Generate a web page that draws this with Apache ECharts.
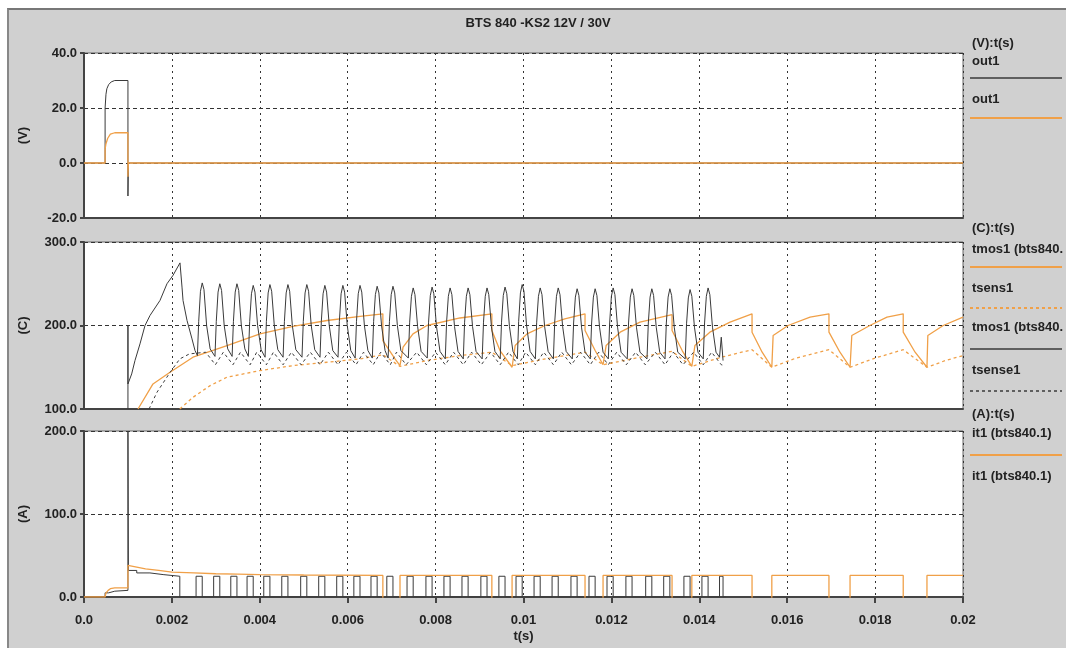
<!DOCTYPE html>
<html>
<head>
<meta charset="utf-8">
<script src="https://cdn.jsdelivr.net/npm/echarts@6/dist/echarts.min.js"></script>
<style>
html, body { margin: 0; padding: 0; background: #fff; }
#frame { position: absolute; left: 7px; top: 8px; width: 1059px; height: 640px; background: #d0d0d0;
         border-top: 2px solid #777; border-left: 2px solid #888; box-sizing: border-box; }
#chart { position: absolute; left: 0; top: 0; width: 1066px; height: 648px; }
</style>
</head>
<body>
<div id="frame"></div>
<div id="chart"></div>
<script>
// tick labels of the time axis
const xTickLabels = ['0.0', '0.002', '0.004', '0.006', '0.008', '0.01', '0.012', '0.014', '0.016', '0.018', '0.02'];

// (V) panel : out1 (black / orange)
const outBlack = [[0,0],[0.00048,0],[0.00048,5],[0.00048,20],[0.0005,25],[0.00052,27],[0.00056,28.5],[0.00062,29.5],
  [0.0007,30],[0.001,30],[0.001,-12],[0.00101,0],[0.02,0]];
const outOrange = [[0,0],[0.00048,0],[0.00048,5],[0.0005,7],[0.00054,9],[0.0006,10.5],[0.0007,11],[0.001,11],
  [0.001,-5],[0.00101,0],[0.02,0]];

// (C) panel : tmos1 black (fast cycling)
const tmosBlack = [[0.001,100],[0.001,200],[0.001,130],[0.001085,142],[0.00116,158],[0.001274,178],[0.001388,200],
  [0.001502,212],[0.001729,230],[0.001888,250],[0.002025,260],[0.002184,275],[0.00223,246],[0.002253,230],
  [0.002344,206],[0.002457,184],[0.002526,170],
  [0.00258,164],[0.00261,205],[0.00265,241],[0.00269,251],[0.00273,243],[0.00279,200],[0.00287,172],
  [0.00298,163],[0.00301,205],[0.00305,240],[0.00309,250],[0.00313,242],[0.00319,200],[0.00327,172],
  [0.00337,163],[0.00340,205],[0.00344,240],[0.00348,250],[0.00352,242],[0.00358,200],[0.00366,172],
  [0.00374,163],[0.00377,205],[0.00381,238],[0.00385,248],[0.00389,240],[0.00395,200],[0.00403,171],
  [0.00412,162],[0.00415,205],[0.00419,239],[0.00423,249],[0.00427,241],[0.00433,200],[0.00441,171],
  [0.00453,162],[0.00456,205],[0.00460,239],[0.00464,249],[0.00468,241],[0.00474,200],[0.00482,171],
  [0.00496,162],[0.00499,205],[0.00503,239],[0.00507,249],[0.00511,241],[0.00517,200],[0.00525,171],
  [0.00537,162],[0.00540,205],[0.00544,238],[0.00548,248],[0.00552,240],[0.00558,200],[0.00566,170],
  [0.00578,162],[0.00581,205],[0.00585,238],[0.00589,248],[0.00593,240],[0.00599,200],[0.00607,170],
  [0.00617,161],[0.00620,205],[0.00624,238],[0.00628,248],[0.00632,240],[0.00638,200],[0.00646,170],
  [0.00656,161],[0.00659,205],[0.00663,237],[0.00667,247],[0.00671,239],[0.00677,200],[0.00685,170],
  [0.00692,161],[0.00695,205],[0.00699,237],[0.00703,247],[0.00707,239],[0.00713,200],[0.00721,170],
  [0.00738,161],[0.00741,204],[0.00745,235],[0.00749,245],[0.00753,237],[0.00759,199],[0.00767,169],
  [0.00781,161],[0.00784,204],[0.00788,236],[0.00792,246],[0.00796,238],[0.00802,199],[0.00810,169],
  [0.00822,160],[0.00825,204],[0.00829,235],[0.00833,245],[0.00837,237],[0.00843,199],[0.00851,169],
  [0.00863,160],[0.00866,204],[0.00870,235],[0.00874,245],[0.00878,237],[0.00884,199],[0.00892,169],
  [0.00906,160],[0.00909,204],[0.00913,235],[0.00917,245],[0.00921,237],[0.00927,199],[0.00935,169],
  [0.00947,160],[0.00950,204],[0.00954,236],[0.00958,246],[0.00962,238],[0.00968,199],[0.00976,169],
  [0.00986,160],[0.00989,205],[0.00993,239],[0.00997,249],[0.01001,241],[0.01007,200],[0.01015,169],
  [0.01027,160],[0.01030,204],[0.01034,235],[0.01038,245],[0.01042,237],[0.01048,199],[0.01056,169],
  [0.01068,160],[0.01071,204],[0.01075,235],[0.01079,245],[0.01083,237],[0.01089,199],[0.01097,169],
  [0.01111,160],[0.01114,203],[0.01118,234],[0.01122,244],[0.01126,236],[0.01132,198],[0.01140,168],
  [0.01152,160],[0.01155,203],[0.01159,234],[0.01163,244],[0.01167,236],[0.01173,198],[0.01181,168],
  [0.01193,160],[0.01196,203],[0.01200,235],[0.01204,245],[0.01208,237],[0.01214,198],[0.01222,168],
  [0.01236,160],[0.01239,203],[0.01243,234],[0.01247,244],[0.01251,236],[0.01257,198],[0.01265,168],
  [0.01281,160],[0.01284,203],[0.01288,234],[0.01292,244],[0.01296,236],[0.01302,198],[0.01310,168],
  [0.01322,160],[0.01325,203],[0.01329,234],[0.01333,244],[0.01337,236],[0.01343,198],[0.01351,168],
  [0.01368,160],[0.01371,202],[0.01375,233],[0.01379,243],[0.01383,235],[0.01389,198],[0.01397,168],
  [0.01409,160],[0.01412,203],[0.01416,235],[0.01420,245],[0.01424,237],[0.01430,198],[0.01438,168],
  [0.01446,162],[0.01450,186],[0.01453,186],[0.01454,158]];

// (C) panel : tsense1 black dashed
const tsenseBlack = [[0.00148,100],[0.00166,120],[0.00196,144],[0.00218,160],[0.0024,166],
  [0.00277,168],[0.00299,153],[0.00317,168],[0.00339,153],[0.00356,168],[0.00378,153],
  [0.00393,168],[0.00415,153],[0.00431,168],[0.00453,153],[0.00472,168],[0.00494,153],
  [0.00515,168],[0.00537,153],[0.00556,168],[0.00578,153],[0.00597,168],[0.00619,153],
  [0.00636,168],[0.00658,153],[0.00675,168],[0.00697,153],[0.00711,168],[0.00733,153],
  [0.00757,168],[0.00779,153],[0.00800,168],[0.00822,153],[0.00841,168],[0.00863,153],
  [0.00882,168],[0.00904,153],[0.00925,168],[0.00947,153],[0.00966,168],[0.00988,153],
  [0.01005,168],[0.01027,153],[0.01046,168],[0.01068,153],[0.01087,168],[0.01109,153],
  [0.01130,168],[0.01152,153],[0.01171,168],[0.01193,153],[0.01212,168],[0.01234,153],
  [0.01255,168],[0.01277,153],[0.01300,168],[0.01322,153],[0.01341,168],[0.01363,153],
  [0.01387,168],[0.01409,153],[0.01428,168],[0.01450,153],[0.01458,152]];

// (C) panel : tmos1 orange (slow cycling)
const tmosOrange = [[0.001229,100],[0.00157,130],[0.001957,144],[0.00248,162],[0.003254,176],[0.004005,190],
  [0.004755,199],[0.005529,206],[0.00628,211],[0.0068,214],[0.0068,182],[0.007076,160],[0.00719,152],
  [0.00726,174],[0.007486,190],[0.007804,200],[0.008555,209],[0.00928,214],[0.00928,194],[0.009465,170],
  [0.00974,150],[0.00981,176],[0.01008,190],[0.01049,200],[0.01094,208],[0.0114,214],[0.0114,194],
  [0.01163,170],[0.01181,153],[0.01188,176],[0.0122,192],[0.01265,204],[0.01338,213],[0.01338,194],
  [0.01361,170],[0.01383,151],[0.0139,176],[0.01424,192],[0.0147,204],[0.0152,214],[0.0152,192],
  [0.01543,168],[0.01565,150],[0.01568,188],[0.01602,200],[0.01652,210],[0.01695,214],[0.01695,192],
  [0.0172,168],[0.01743,150],[0.01747,188],[0.01788,200],[0.01827,210],[0.01864,214],[0.01864,192],
  [0.01891,168],[0.01918,150],[0.0192,188],[0.01955,200],[0.02,210]];

// (C) panel : tsens1 orange dashed
const tsensOrange = [[0.00218,100],[0.00248,114],[0.00287,128],[0.00325,138],[0.004,146],[0.00476,152],
  [0.00553,156],[0.00628,160],[0.0068,165],[0.00719,151],[0.0078,158],[0.00856,164],[0.00928,168],
  [0.00974,152],[0.0105,160],[0.0114,168],[0.01181,153],[0.01265,162],[0.01338,169],[0.01383,151],
  [0.0145,162],[0.0152,171],[0.01565,150],[0.0162,161],[0.01695,171],[0.01743,150],[0.018,161],
  [0.01864,171],[0.01918,150],[0.0196,158],[0.02,164]];

// (A) panel : it1 black (step data: on time, off time)
const itBlack = [[0,0],[0.00048,5],[0.00056,7],[0.0007,8],[0.001,200],[0.00101,32],[0.0012,29],[0.0015,27],
  [0.0018,25],[0.00218,0],
  [0.00255,25],[0.00269,0],[0.00295,25],[0.00309,0],[0.00334,25],[0.00348,0],[0.00371,25],[0.00385,0],
  [0.00409,25],[0.00423,0],[0.00450,25],[0.00464,0],[0.00493,25],[0.00507,0],[0.00534,25],[0.00548,0],
  [0.00575,25],[0.00589,0],[0.00614,25],[0.00628,0],[0.00653,25],[0.00667,0],[0.00689,25],[0.00703,0],
  [0.00735,25],[0.00749,0],[0.00778,25],[0.00792,0],[0.00819,25],[0.00833,0],[0.00860,25],[0.00874,0],
  [0.00903,25],[0.00917,0],[0.00944,25],[0.00958,0],[0.00983,25],[0.00997,0],[0.01024,25],[0.01038,0],
  [0.01065,25],[0.01079,0],[0.01108,25],[0.01122,0],[0.01149,25],[0.01163,0],[0.01190,25],[0.01204,0],
  [0.01233,25],[0.01247,0],[0.01278,25],[0.01292,0],[0.01319,25],[0.01333,0],[0.01365,25],[0.01379,0],
  [0.01406,25],[0.01420,0],[0.01446,25],[0.01454,0],[0.0146,0]];

// (A) panel : it1 orange
const itOrange = [[0,0],[0.00048,0],[0.0005,5],[0.00055,8],[0.0006,10],[0.0007,11],[0.001,11],[0.001,38],
  [0.0012,36],[0.0014,34],[0.0017,32],[0.002,30],[0.0025,29],[0.003,28],[0.0035,27.5],[0.004,27],
  [0.005,26.5],[0.0068,26],[0.0068,-2],[0.00719,-2],[0.00719,26],[0.00928,26],[0.00928,-2],[0.00974,-2],
  [0.00974,26],[0.0114,26],[0.0114,-2],[0.01181,-2],[0.01181,26],[0.01338,26],[0.01338,-2],[0.01383,-2],
  [0.01383,26],[0.0152,26],[0.0152,-2],[0.01565,-2],[0.01565,26],[0.01695,26],[0.01695,-2],[0.01743,-2],
  [0.01743,26],[0.01864,26],[0.01864,-2],[0.01918,-2],[0.01918,26],[0.02,26]];

const FONT = 'Liberation Sans';
const BLACK = '#3a3a3a';
const ORANGE = '#f0a048';
const txt = { color: '#222', fontFamily: FONT, fontWeight: 'bold', fontSize: 13 };

const panels = [
  { top: 53, height: 165, min: -20, max: 40, interval: 20, name: '(V)' },
  { top: 242, height: 167, min: 100, max: 300, interval: 100, name: '(C)' },
  { top: 431, height: 166, min: 0, max: 200, interval: 100, name: '(A)' }
];

function lineSeries(data, idx, color, dashed, step) {
  return {
    type: 'line', data: data, xAxisIndex: idx, yAxisIndex: idx,
    showSymbol: false, symbol: 'none', step: step || false, clip: true,
    lineStyle: { color: color, width: color === ORANGE ? 1.3 : 1, type: dashed ? [3, 3] : 'solid' }
  };
}

// legend built as text + sample line, like the original tool draws it
function legText(y, s) {
  return { type: 'text', style: { text: s, x: 972, y: y, fill: '#222', font: 'bold 13px ' + FONT, verticalAlign: 'middle' } };
}
function legLine(y, color, dashed) {
  return { type: 'line', shape: { x1: 970, y1: y, x2: 1062, y2: y },
    style: { stroke: color, lineWidth: color === ORANGE ? 2 : 1.5, lineDash: dashed ? [3, 3] : null } };
}

let chart = echarts.init(document.getElementById('chart'), null, { renderer: 'canvas' });
chart.setOption({
  backgroundColor: 'transparent',
  animation: false,
  grid: panels.map(p => ({ left: 84, width: 879, top: p.top, height: p.height, show: true,
    backgroundColor: '#fff', borderColor: '#666', borderWidth: 1 })),
  xAxis: panels.map((p, i) => ({
    type: 'value', gridIndex: i, min: 0, max: 0.02, interval: 0.002,
    axisLine: { show: true, onZero: false, lineStyle: { color: '#444', width: 2 } },
    axisTick: { show: i === 2, length: 6, lineStyle: { color: '#444', width: 2 } },
    axisLabel: Object.assign({ show: i === 2, margin: 17,
      formatter: v => xTickLabels[Math.round(v / 0.002)] }, txt),
    splitLine: { show: true, lineStyle: { color: '#333', type: [2, 4], width: 1 } },
    name: i === 2 ? 't(s)' : '', nameLocation: 'middle', nameGap: 33, nameTextStyle: txt
  })),
  yAxis: panels.map((p, i) => ({
    type: 'value', gridIndex: i, min: p.min, max: p.max, interval: p.interval,
    axisLine: { show: true, onZero: false, lineStyle: { color: '#444', width: 2 } },
    axisTick: { show: true, length: 4, lineStyle: { color: '#444', width: 2 } },
    axisLabel: Object.assign({ margin: 7, formatter: v => v.toFixed(1) }, txt),
    splitLine: { show: true, lineStyle: { color: '#333', type: [4, 3], width: 1 } },
    name: p.name, nameLocation: 'middle', nameGap: 54, nameTextStyle: txt
  })),
  series: [
    lineSeries(outBlack, 0, BLACK),
    lineSeries(outOrange, 0, ORANGE),
    lineSeries(tmosOrange, 1, ORANGE),
    lineSeries(tsensOrange, 1, ORANGE, true),
    lineSeries(tsenseBlack, 1, BLACK, true),
    lineSeries(tmosBlack, 1, BLACK),
    lineSeries(itBlack, 2, BLACK, false, 'end'),
    lineSeries(itOrange, 2, ORANGE)
  ],
  graphic: [
    { type: 'text', style: { text: 'BTS 840 -KS2 12V / 30V', x: 538, y: 23, align: 'center', verticalAlign: 'middle',
      fill: '#222', font: 'bold 13px ' + FONT } },
    legText(43, '(V):t(s)'), legText(61, 'out1'), legLine(78, BLACK),
    legText(99, 'out1'), legLine(118, ORANGE),
    legText(228, '(C):t(s)'), legText(249, 'tmos1 (bts840.'), legLine(267, ORANGE),
    legText(288, 'tsens1'), legLine(308, ORANGE, true),
    legText(327, 'tmos1 (bts840.'), legLine(349, BLACK),
    legText(370, 'tsense1'), legLine(391, BLACK, true),
    legText(414, '(A):t(s)'), legText(433, 'it1 (bts840.1)'), legLine(455, ORANGE),
    legText(476, 'it1 (bts840.1)')
  ]
});
</script>
</body>
</html>
